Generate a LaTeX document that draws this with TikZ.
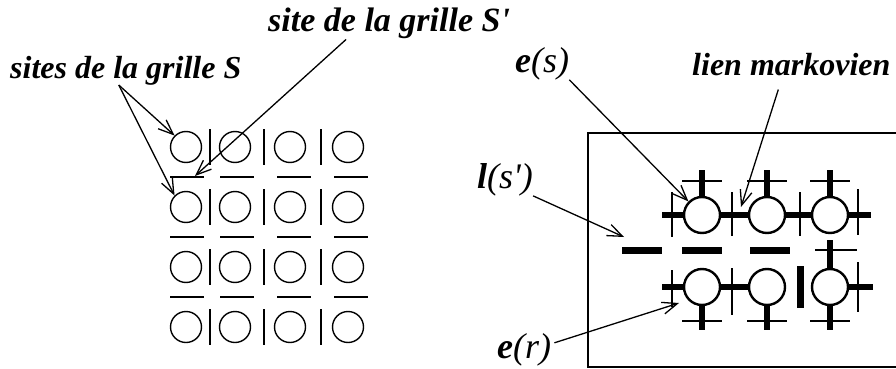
\documentclass[tikz,border=0pt]{standalone}
\usepackage{fontspec}
\setmainfont{Liberation Serif}
\usetikzlibrary{arrows.meta}
\tikzset{
  gridlbl/.style={font=\fontsize{32}{34}\selectfont\bfseries\itshape, inner sep=0pt, anchor=base west},
  varlbl/.style={gridlbl, font=\fontsize{36}{38}\selectfont\bfseries\itshape},
  ssite/.style={circle, draw, line width=1.4pt, minimum size=31pt, inner sep=0pt},
  esite/.style={circle, draw, line width=2.4pt, minimum size=36pt, inner sep=0pt},
  thinbar/.style={line width=1.3pt},
  stub/.style={line width=5.5pt},
  linebar/.style={line width=7pt},
  pointer/.style={-{Straight Barb[length=15pt, width=12pt, line width=1.3pt]}, line width=1.3pt},
  frame/.style={line width=1.5pt}
}

\begin{document}
\begin{tikzpicture}[x=1pt, y=-1pt]
  \useasboundingbox (0,0) rectangle (896,369);
  % grille S et sites de la grille S'
  \foreach \r/\y in {1/147,2/207,3/267,4/327}{
    \foreach \c/\x in {1/186,2/235,3/290,4/348}
      \node[ssite] (s\r\c) at (\x,\y) {};
    \foreach \x in {210,264,321}
      \draw[thinbar] (\x,\y-18) -- (\x,\y+18);
  }
  \foreach \y in {177,237,297}
    \foreach \x in {187,237,294,351}
      \draw[thinbar] (\x-17,\y) -- (\x+17,\y);
  \coordinate (hbar) at (195,176);

  \node[gridlbl] (sitesS) at (10,78) {sites de la grille S};
  \node[gridlbl, font=\fontsize{34}{36}\selectfont\bfseries\itshape] (siteSp) at (268,32) {site de la grille S\textquotesingle};
  \draw[pointer] ([xshift=-7pt]sitesS.south) -- (s11.north west);
  \draw[pointer] ([xshift=-7pt]sitesS.south) -- (s21.north west);
  \draw[pointer] ([xshift=-43pt]siteSp.south) -- (hbar);

  % champ markovien
  \draw[frame] (588,133) rectangle (900,367);
  \foreach \r/\y in {1/215,2/287}
    \foreach \c/\x in {1/702,2/767,3/830}
      \node[esite] (e\r\c) at (\x,\y) {};
  \foreach \c/\x in {1/702,2/767,3/830}{
    \draw[thinbar] (\x-20,181) -- (\x+20,181);
    \draw[stub] (\x,170) -- (e1\c.north);
    \draw[stub] (e2\c.south) -- (\x,330);
    \draw[thinbar] (\x-20,321) -- (\x+20,321);
  }
  \draw[stub] (662,215) -- (e11.west);
  \draw[stub] (e11) -- (e12);
  \draw[stub] (e12) -- (e13);
  \draw[stub] (e13.east) -- (871,215);
  \draw[thinbar] (672,192) -- (672,237);
  \draw[thinbar] (732,192) -- (732,236);
  \draw[thinbar] (800,192) -- (800,236);
  \draw[thinbar] (858,189) -- (858,235);

  \draw[linebar] (622,250) -- (662,250);
  \draw[linebar] (682,250) -- (722,250);
  \draw[linebar] (750,250) -- (790,250);
  \draw[thinbar] (815,250) -- (857,250);
  \draw[stub] (830,240) -- (e23.north);

  \draw[stub] (662,287) -- (e21.west);
  \draw[stub] (e21) -- (e22);
  \draw[linebar] (800,266) -- (800,308);
  \draw[stub] (e23.east) -- (873,287);
  \draw[thinbar] (672,270) -- (672,307);
  \draw[thinbar] (732,268) -- (732,315);
  \draw[thinbar] (858,262) -- (858,312);

  \coordinate (mlink) at (741,207);
  \coordinate (lbar) at (624,237);
  \coordinate (ertip) at (679,303);
  \node[varlbl] (es) at (515,72) {e\mdseries(s)};
  \node[gridlbl] (lien) at (692,75) {lien markovien};
  \node[varlbl] (ls) at (477,188) {l\mdseries(s\textquotesingle)};
  \node[varlbl] (er) at (497,358) {e\mdseries(r)};
  \draw[pointer] (es.south east) -- (e11.north west);
  \draw[pointer] ([shift={(-13pt,-14pt)}]lien.south) -- (mlink);
  \draw[pointer] (ls.south east) -- (lbar);
  \draw[pointer] ([shift={(3pt,-10pt)}]er.north east) -- (ertip);
\end{tikzpicture}
\end{document}
